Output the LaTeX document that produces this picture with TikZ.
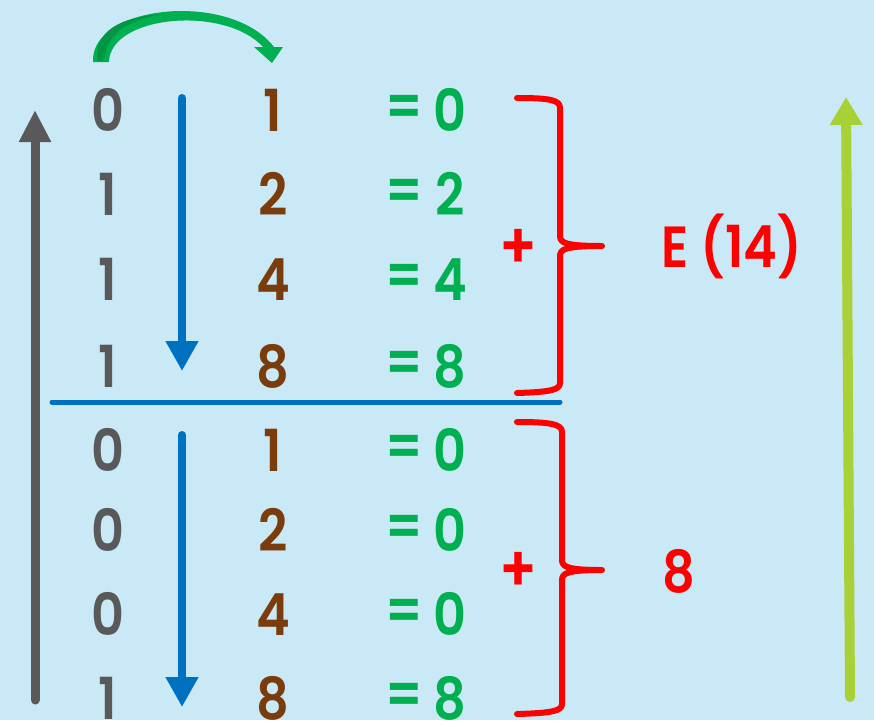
\documentclass[tikz,border=0pt]{standalone}
\usepackage{fontspec}
\setmainfont{Poppins}[BoldFont={Poppins SemiBold}, FakeStretch=0.88]
\usetikzlibrary{arrows.meta}
\definecolor{bgblue}{RGB}{201,233,246}
\definecolor{bitgray}{RGB}{89,89,89}
\definecolor{wbrown}{RGB}{122,60,12}
\definecolor{resgreen}{RGB}{0,176,80}
\definecolor{darkgreen}{RGB}{0,150,68}
\definecolor{lineblue}{RGB}{0,112,192}
\definecolor{lime}{RGB}{170,208,55}
\tikzset{
  digit/.style={inner sep=0pt, anchor=base, font=\fontsize{58}{60}\selectfont\bfseries},
  eqsign/.style={inner sep=0pt, anchor=center, text=resgreen, font=\fontsize{58}{60}\selectfont\bfseries},
  label/.style={inner sep=0pt, anchor=base west, text=red, font=\fontsize{58}{60}\selectfont\bfseries},
  plussign/.style={inner sep=0pt, anchor=center, text=red, font=\fontsize{64}{66}\selectfont\bfseries},
  brace/.style={draw=red, line width=6pt, line cap=round, line join=round},
  downarrow/.style={draw=lineblue, line width=8pt, line cap=round, -{Triangle[width=31pt,length=30pt]}},
}
\begin{document}
\begin{tikzpicture}[x=1pt,y=-1pt]
  % background
  \fill[bgblue] (0,0) rectangle (874,720);
  \useasboundingbox (0,0) rectangle (874,720);

  % table of bits, weights and products
  \foreach \i/\bit/\w/\res/\base in {
      1/0/1/0/131.5, 2/1/2/2/215.5, 3/1/4/4/300.5, 4/1/8/8/387.5,
      5/0/1/0/471, 6/0/2/0/551, 7/0/4/0/635, 8/1/8/8/719} {
    \node[digit, text=bitgray] (bit\i) at (108,\base) {\bit};
    \node[digit, text=wbrown] (w\i) at (273,\base) {\w};
    \node[eqsign] (eq\i) at (404,\base-20.5) {=};
    \node[digit, text=resgreen] (res\i) at (450,\base) {\res};
  }

  % plus signs and sums
  \node[plussign] (plusA) at (518,249) {+};
  \node[plussign] (plusB) at (518,572) {+};
  \node[label] (sumA) at (661,267) {E (14)};
  \node[label] (sumB) at (662,592) {8};

  % braces
  \coordinate (bA) at (602,246);
  \coordinate (bB) at (602,570);
  \draw[brace] (517,98) .. controls (550,98) and (560,100) .. (560,108)
    -- (560,236) .. controls (560,243) and (566,246) .. (bA)
    .. controls (566,246) and (560,249) .. (560,256)
    -- (560,383) .. controls (560,390) and (550,392) .. (517,393);
  \draw[brace] (517,422) .. controls (550,422) and (562,424) .. (562,432)
    -- (562,560) .. controls (562,567) and (568,570) .. (bB)
    .. controls (568,570) and (562,573) .. (562,580)
    -- (562,704) .. controls (562,711) and (552,713) .. (517,714);

  % separator line
  \coordinate (sepL) at (52,402);
  \coordinate (sepR) at (560,402);
  \draw[lineblue, line width=5pt, line cap=round] (sepL) -- (sepR);

  % downward arrows beside the bits
  \coordinate (dA1) at (182,98);
  \coordinate (dA2) at (182,371);
  \coordinate (dB1) at (182,435);
  \coordinate (dB2) at (182,707);
  \draw[downarrow] (dA1) -- (dA2);
  \draw[downarrow] (dB1) -- (dB2);

  % upward arrows at the sides
  \coordinate (gBot) at (35,700);
  \coordinate (gTop) at (35,110);
  \draw[bitgray, line width=9pt, line cap=round, -{Triangle[width=30pt,length=32pt]}] (gBot) -- (gTop);
  \coordinate (lBot) at (850,697);
  \coordinate (lTop) at (846,97);
  \draw[lime, line width=10pt, line cap=round, -{Triangle[width=31pt,length=28pt]}] (lBot) -- (lTop);

  % curved green arrow over the first row
  \fill[resgreen] (93,62) .. controls (90,5) and (230,-10) .. (274,47)
    -- (283,47) -- (272,63) -- (254,47) -- (263,47)
    .. controls (225,5) and (110,15) .. (109,62) -- cycle;
  \fill[darkgreen] (97,61) .. controls (95,30) and (120,18) .. (160,14)
    .. controls (125,22) and (106,34) .. (104,61) -- cycle;
\end{tikzpicture}
\end{document}
